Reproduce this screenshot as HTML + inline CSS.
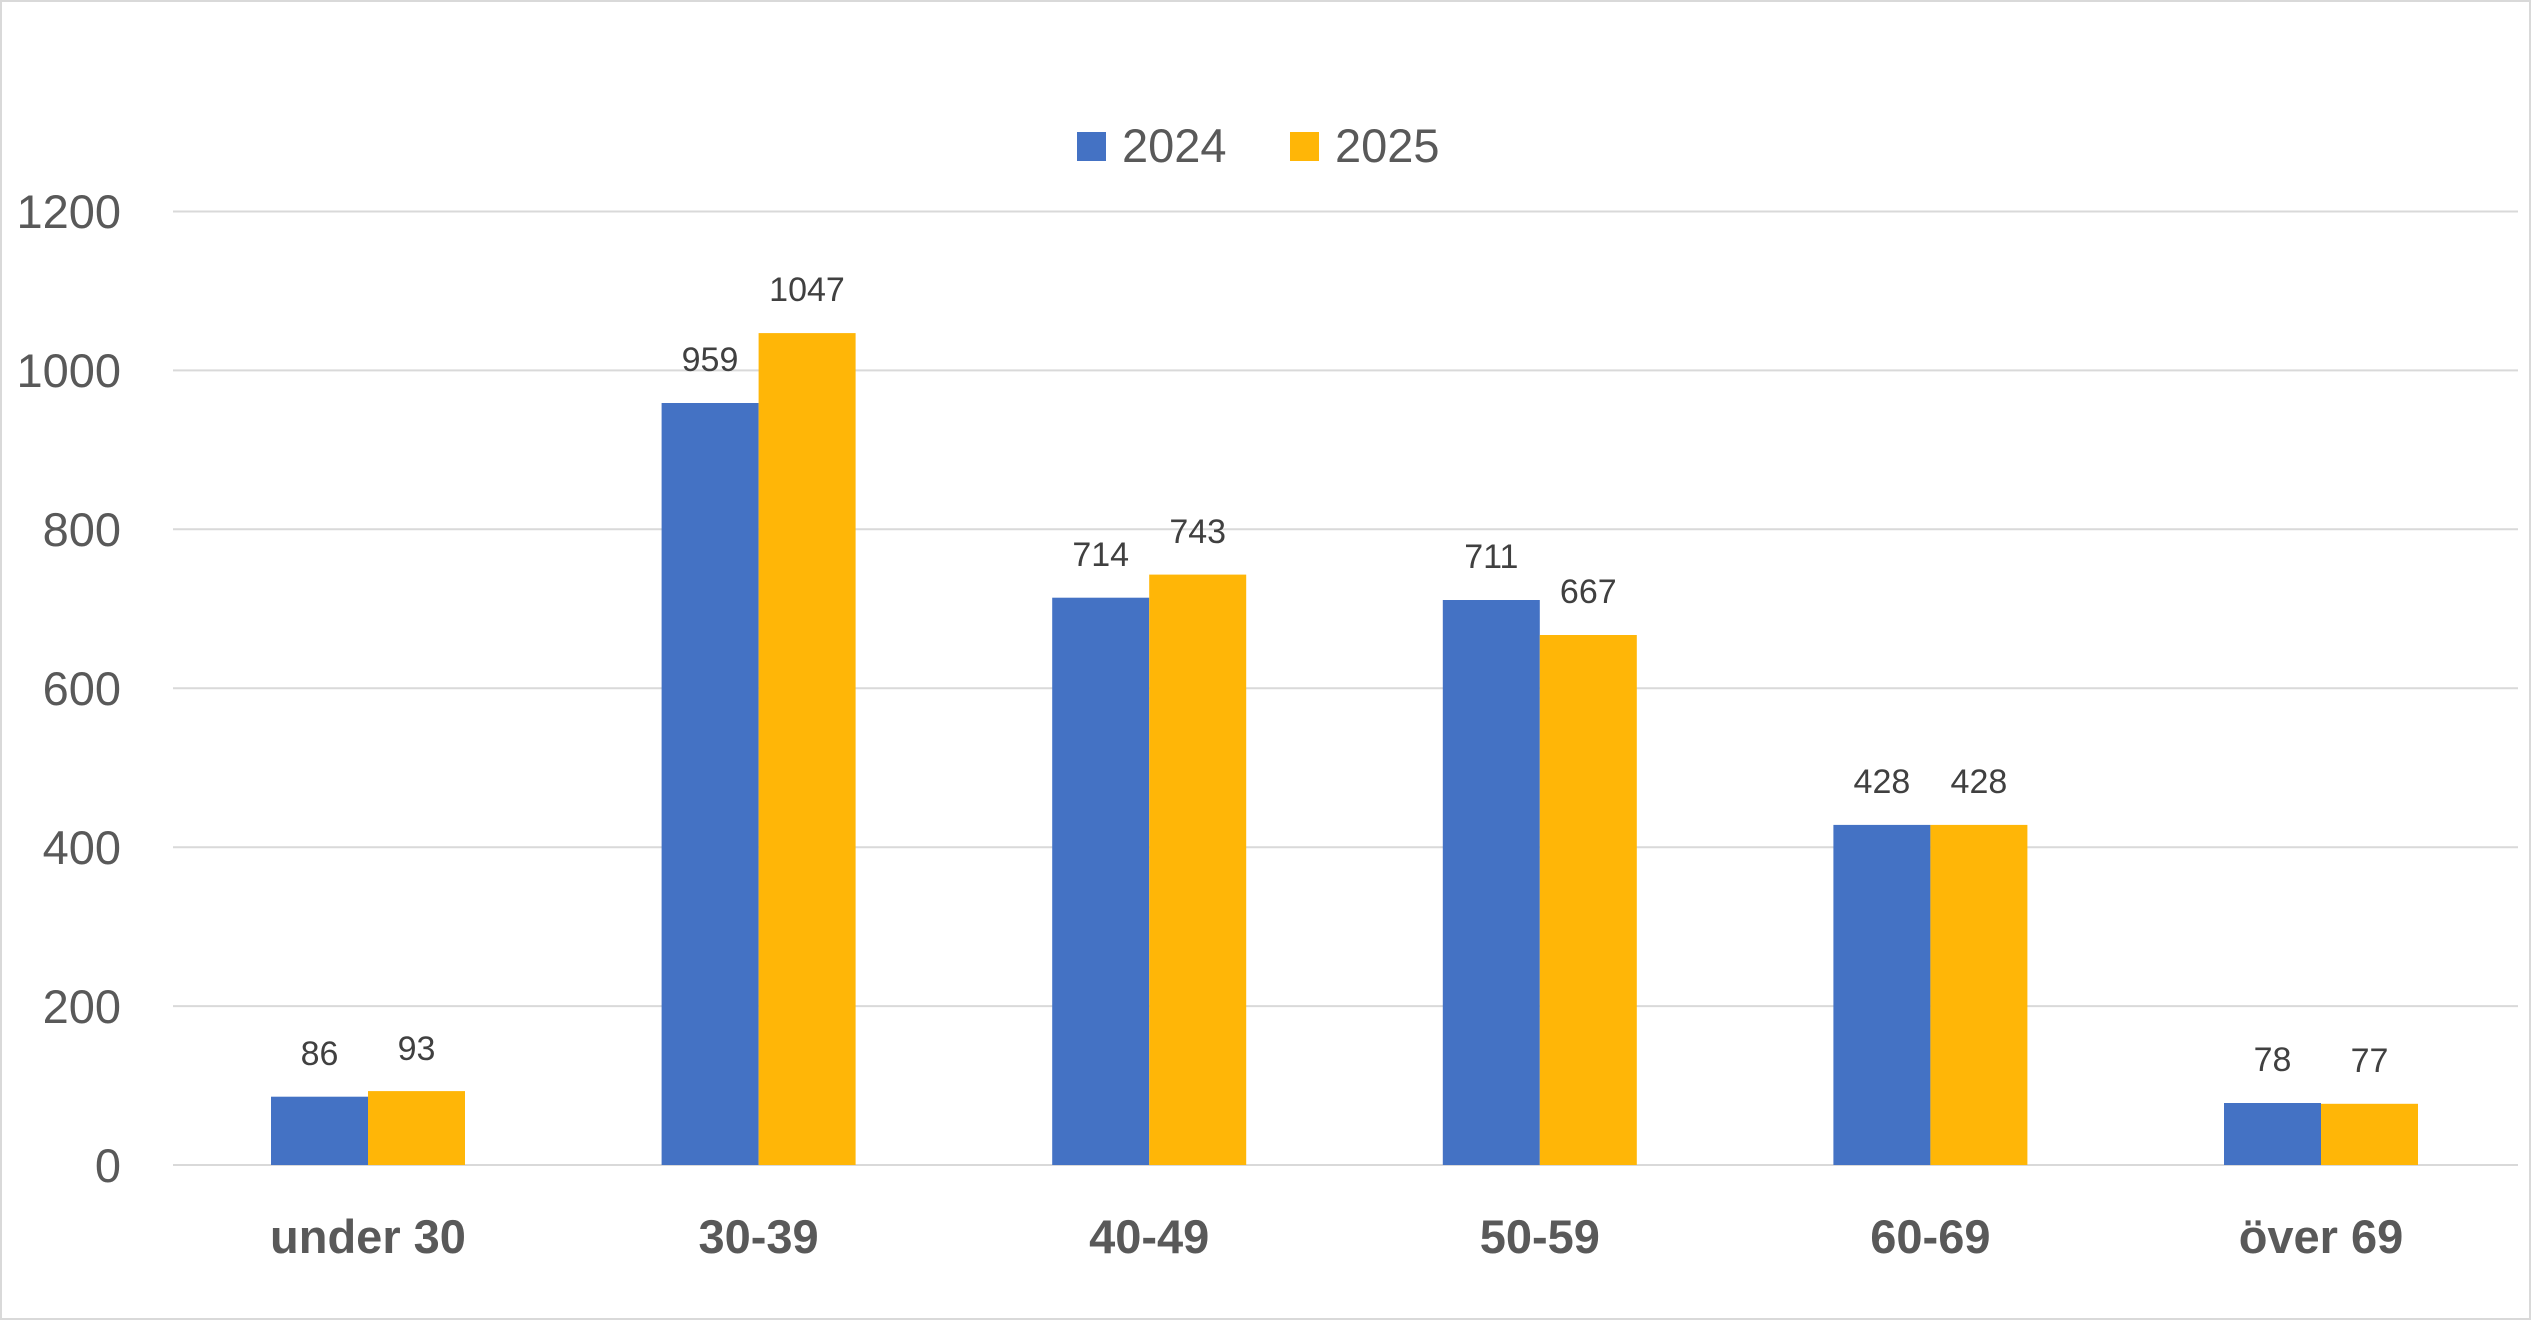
<!DOCTYPE html>
<html><head><meta charset="utf-8"><style>html,body{margin:0;padding:0;background:#fff}svg{display:block}</style></head><body>
<svg width="2531" height="1320" viewBox="0 0 2531 1320" xmlns="http://www.w3.org/2000/svg" font-family="Liberation Sans, sans-serif">
<rect x="1" y="1" width="2529" height="1318" fill="#fff" stroke="#d9d9d9" stroke-width="2"/>
<g stroke="#d9d9d9" stroke-width="2">
<line x1="173" x2="2518" y1="211.5" y2="211.5"/>
<line x1="173" x2="2518" y1="370.4" y2="370.4"/>
<line x1="173" x2="2518" y1="529.3" y2="529.3"/>
<line x1="173" x2="2518" y1="688.2" y2="688.2"/>
<line x1="173" x2="2518" y1="847.2" y2="847.2"/>
<line x1="173" x2="2518" y1="1006.1" y2="1006.1"/>
<line x1="173" x2="2518" y1="1165" y2="1165"/>
</g>
<g fill="#595959" font-size="47" text-anchor="end">
<text x="121" y="228">1200</text><text x="121" y="387">1000</text><text x="121" y="546">800</text>
<text x="121" y="705">600</text><text x="121" y="864">400</text><text x="121" y="1023">200</text><text x="121" y="1182">0</text>
</g>
<g transform="translate(2,0)">
<g fill="#4472c4">
<rect x="269" y="1096.7" width="97" height="68.3"/>
<rect x="659.6" y="403" width="97" height="762"/>
<rect x="1050.2" y="597.7" width="97" height="567.3"/>
<rect x="1440.8" y="600" width="97" height="565"/>
<rect x="1831.4" y="824.9" width="97" height="340.1"/>
<rect x="2222" y="1103" width="97" height="62"/>
</g>
<g fill="#ffb607">
<rect x="366" y="1091.1" width="97" height="73.9"/>
<rect x="756.6" y="333.1" width="97" height="831.9"/>
<rect x="1147.2" y="574.6" width="97" height="590.4"/>
<rect x="1537.8" y="635" width="97" height="530"/>
<rect x="1928.4" y="824.9" width="97" height="340.1"/>
<rect x="2319" y="1103.8" width="97" height="61.2"/>
</g>
<g fill="#404040" font-size="34" text-anchor="middle">
<text x="317.5" y="1065">86</text><text x="414.5" y="1060">93</text>
<text x="708" y="371">959</text><text x="805" y="301">1047</text>
<text x="1098.7" y="566">714</text><text x="1195.7" y="543">743</text>
<text x="1489.3" y="568">711</text><text x="1586.3" y="603">667</text>
<text x="1879.9" y="793">428</text><text x="1976.9" y="793">428</text>
<text x="2270.5" y="1071">78</text><text x="2367.5" y="1072">77</text>
</g>
<g fill="#595959" font-size="47" font-weight="bold" text-anchor="middle">
<text x="366" y="1253">under 30</text><text x="756.6" y="1253">30-39</text><text x="1147.2" y="1253">40-49</text>
<text x="1537.8" y="1253">50-59</text><text x="1928.4" y="1253">60-69</text><text x="2319" y="1253">över 69</text>
</g>
</g>
<rect x="1077" y="132" width="29" height="29" fill="#4472c4"/>
<text x="1122" y="162" font-size="47" fill="#595959">2024</text>
<rect x="1290" y="132" width="29" height="29" fill="#ffb607"/>
<text x="1335" y="162" font-size="47" fill="#595959">2025</text>
</svg>
</body></html>
